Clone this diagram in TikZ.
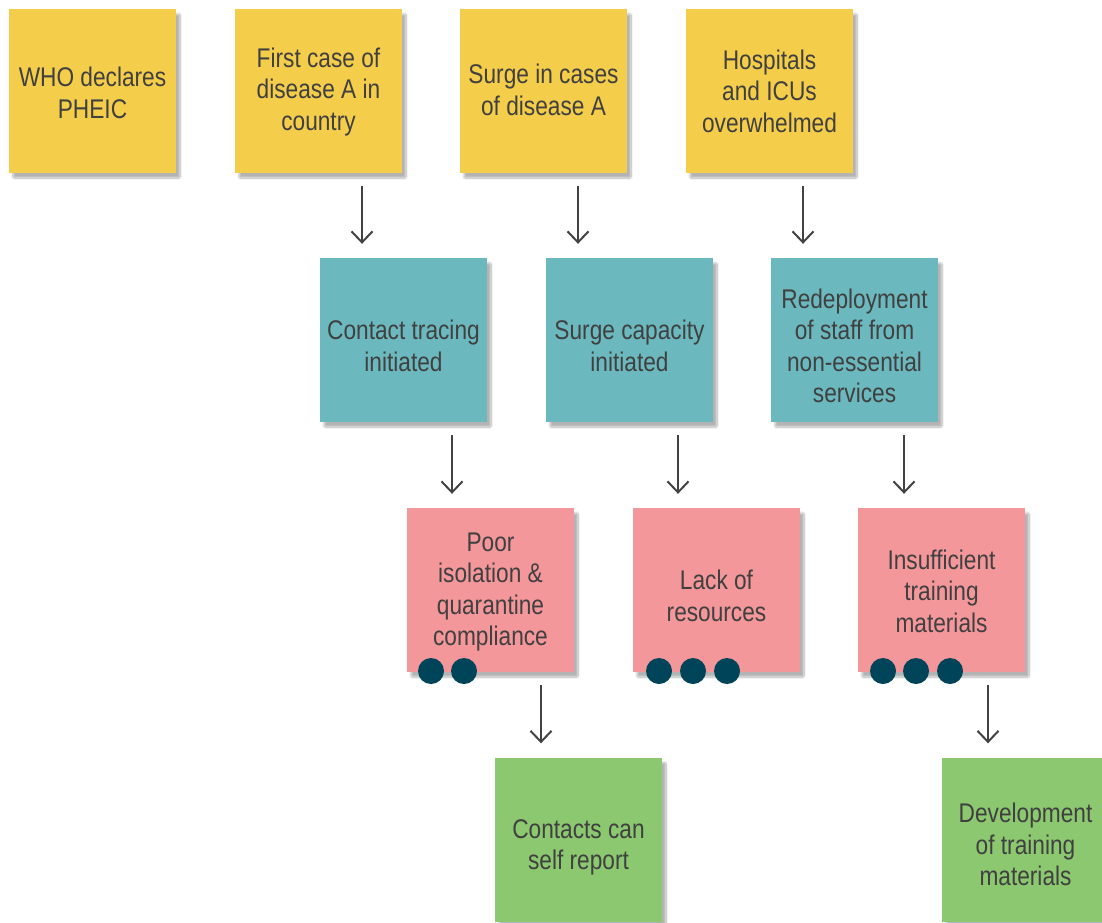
\documentclass[tikz,border=0pt]{standalone}
\usepackage{fontspec}
\setmainfont[FakeStretch=0.84]{Liberation Sans}
\usetikzlibrary{shadows.blur,arrows.meta,calc}
\definecolor{ylw}{HTML}{F4CD4B}
\definecolor{tel}{HTML}{6BB9BE}
\definecolor{pnk}{HTML}{F4979B}
\definecolor{grn}{HTML}{8BC86F}
\definecolor{dotc}{HTML}{004459}
\definecolor{txt}{HTML}{404040}
\definecolor{arrc}{HTML}{424242}
\tikzset{
  note/.style={minimum width=167pt, minimum height=164pt, inner sep=0pt,
    blur shadow={shadow xshift=4pt, shadow yshift=-5pt, shadow blur steps=10, shadow blur extra rounding=1pt, shadow opacity=30}},
  notetext/.style={align=center, inner sep=0pt, text=txt, font=\fontsize{27}{31.5}\selectfont},
  ynote/.style={note, fill=ylw},
  tnote/.style={note, fill=tel},
  pnote/.style={note, fill=pnk},
  gnote/.style={note, fill=grn},
  vote/.style={circle, fill=dotc, minimum size=26pt, inner sep=0pt},
  arr/.style={draw=arrc, line width=2pt, -{Straight Barb[length=11pt, width=21pt, line width=2pt]}, shorten <=13pt, shorten >=14pt}
}
\begin{document}
\begin{tikzpicture}[x=1pt, y=-1pt]
\useasboundingbox (0,0) rectangle (1102,922);
% yellow row
\node[ynote, label={[notetext, name=y1t, yshift=-2pt]center:{WHO declares\\PHEIC}}] (y1) at (92.5,91) {};
\node[ynote, label={[notetext, name=y2t, yshift=-1pt]center:{First case of\\disease A in\\country}}] (y2) at (318.5,91) {};
\node[ynote, label={[notetext, name=y3t, yshift=1pt]center:{Surge in cases\\of disease A}}] (y3) at (543.5,91) {};
\node[ynote, label={[notetext, name=y4t]center:{Hospitals\\and ICUs\\overwhelmed}}] (y4) at (769.5,91) {};
% teal row
\node[tnote, label={[notetext, name=t1t, yshift=-6pt]center:{Contact tracing\\initiated}}] (t1) at (403.5,340) {};
\node[tnote, label={[notetext, name=t2t, yshift=-6pt]center:{Surge capacity\\initiated}}] (t2) at (629.5,340) {};
\node[tnote, label={[notetext, name=t3t, yshift=-6pt]center:{Redeployment\\of staff from\\non-essential\\services}}] (t3) at (854.5,340) {};
% pink row
\node[pnote, label={[notetext, name=p1t, yshift=-2pt]center:{Poor\\isolation \&\\quarantine\\compliance}}] (p1) at (490.5,590) {};
\node[pnote, label={[notetext, name=p2t, yshift=-6pt]center:{Lack of\\resources}}] (p2) at (716.5,590) {};
\node[pnote, label={[notetext, name=p3t, yshift=-1pt]center:{Insufficient\\training\\materials}}] (p3) at (941.5,590) {};
% green row
\node[gnote, label={[notetext, name=g1t, yshift=-8pt]center:{Contacts can\\self report}}] (g1) at (578.5,839.5) {};
\node[gnote, label={[notetext, name=g2t, yshift=-5pt]center:{Development\\of training\\materials}}] (g2) at (1025.5,839.5) {};
% votes
\node[vote] (v11) at (431,671) {};
\node[vote] (v12) at (464,671) {};
\node[vote] (v21) at (659,671) {};
\node[vote] (v22) at (693,671) {};
\node[vote] (v23) at (727,671) {};
\node[vote] (v31) at (883,671) {};
\node[vote] (v32) at (916,671) {};
\node[vote] (v33) at (950,671) {};
% arrow columns
\coordinate (a1) at (362,0);
\coordinate (a2) at (578,0);
\coordinate (a3) at (803,0);
\coordinate (b1) at (452,0);
\coordinate (b2) at (678,0);
\coordinate (b3) at (904,0);
\coordinate (c1) at (541,0);
\coordinate (c2) at (988,0);
\draw[arr] (y2.south -| a1) -- (t1.north -| a1);
\draw[arr] (y3.south -| a2) -- (t2.north -| a2);
\draw[arr] (y4.south -| a3) -- (t3.north -| a3);
\draw[arr] (t1.south -| b1) -- (p1.north -| b1);
\draw[arr] (t2.south -| b2) -- (p2.north -| b2);
\draw[arr] (t3.south -| b3) -- (p3.north -| b3);
\draw[arr] (p1.south -| c1) -- (g1.north -| c1);
\draw[arr] (p3.south -| c2) -- (g2.north -| c2);
\end{tikzpicture}
\end{document}
